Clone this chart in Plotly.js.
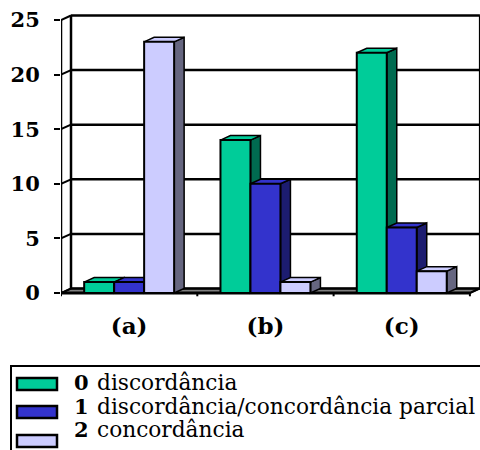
<!DOCTYPE html>
<html>
<head>
<meta charset="utf-8">
<script src="https://cdn.plot.ly/plotly-3.0.1.min.js"></script>
<style>html,body{margin:0;padding:0;background:#fff;}#chart{width:480px;height:450px;}</style>
</head>
<body>
<div id="chart"></div>
<script>
// ---- data ----
const categories = ["(a)", "(b)", "(c)"];
const seriesNames = ["discordância", "discordância/concordância parcial", "concordância"];
const seriesCodes = ["0", "1", "2"];
const s0 = [1, 14, 22];   // 0 discordância
const s1 = [1, 10, 6];    // 1 discordância/concordância parcial
const s2 = [23, 1, 2];    // 2 concordância
const yTicks = [0, 5, 10, 15, 20, 25];

// ---- styles ----
const frontColors = ["#00CC99", "#3333CC", "#CCCCFF"];
const sideColors  = ["#006B50", "#1C1C70", "#666680"];
const topColors   = ["#00CC99", "#3333CC", "#CCCCFF"];

const W = 480, H = 450;
const margin = {l: 61, r: 0, t: 12, b: 150};
const pxPerX = 136.3, pxPerY = 10.92;
const plotW = W - margin.l - margin.r, plotH = H - margin.t - margin.b;
const xMin = -0.5, xMax = xMin + plotW / pxPerX;
const yMin = -7 / pxPerY, yMax = yMin + plotH / pxPerY;
const dx = 10 / pxPerX, dy = 4.5 / pxPerY;   // 3-D depth offset
const bargap = 0.34;
const bw = (1 - bargap) / 3;
const yTop = yTicks[yTicks.length - 1];
const nCat = categories.length;

const all = [s0, s1, s2];
const xs = categories.map((c, i) => i);

const traces = all.map((vals, j) => ({
  type: "bar",
  x: xs,
  y: vals,
  name: seriesCodes[j] + " " + seriesNames[j],
  marker: {color: frontColors[j], line: {color: "#000", width: 2}},
  showlegend: false,
  hoverinfo: "skip"
}));

const shapes = [];
const L = (x0, y0, x1, y1, w, col) => shapes.push({type: "line", xref: "x", yref: "y",
  x0, y0, x1, y1, layer: "below", line: {color: col || "#000", width: w || 2}});

// floor
shapes.push({type: "path", xref: "x", yref: "y", layer: "below",
  path: `M${xMin},0 L${xMin + nCat},0 L${xMin + nCat + dx},${dy} L${xMin + dx},${dy} Z`,
  fillcolor: "#808080", line: {color: "#000", width: 1.5}});
// back wall gridlines + diagonals
yTicks.forEach(v => {
  L(xMin + dx, v + dy, xMin + nCat + dx, v + dy, 2.5);
  L(xMin, v, xMin + dx, v + dy, 2);
});
// back wall edges
L(xMin + dx, dy, xMin + dx, yTop + dy, 2.5);
L(xMin + nCat + dx, dy, xMin + nCat + dx, yTop + dy, 2);
// front axis
L(xMin, 0, xMin, yTop, 2.5);
L(xMin, 0, xMin + nCat, 0, 3);
L(xMin + nCat, 0, xMin + nCat + dx, dy, 2);
for (let k = 0; k <= nCat; k++) L(xMin + k, 0, xMin + k, -0.3, 2);

// bar sides and tops
xs.forEach((xc, i) => {
  all.forEach((vals, j) => {
    const v = vals[i];
    const xl = xc + (j - 1) * bw - bw / 2, xr = xl + bw;
    shapes.push({type: "path", xref: "x", yref: "y", layer: "below",
      path: `M${xr},0 L${xr + dx},${dy} L${xr + dx},${v + dy} L${xr},${v} Z`,
      fillcolor: sideColors[j], line: {color: "#000", width: 1.5}});
    shapes.push({type: "path", xref: "x", yref: "y", layer: "below",
      path: `M${xl},${v} L${xl + dx},${v + dy} L${xr + dx},${v + dy} L${xr},${v} Z`,
      fillcolor: topColors[j], line: {color: "#000", width: 1.5}});
  });
});

// custom legend (paper coords)
const px2x = p => (p - margin.l) / plotW;
const px2y = p => (margin.t + plotH - p) / plotH;
shapes.push({type: "rect", xref: "paper", yref: "paper",
  x0: px2x(11), x1: px2x(484), y0: px2y(455), y1: px2y(366),
  line: {color: "#000", width: 2}, fillcolor: "rgba(0,0,0,0)"});
const swatchY = [384, 412, 441];
const textY = [382, 406, 429];
const annotations = [];
seriesNames.forEach((nm, j) => {
  shapes.push({type: "rect", xref: "paper", yref: "paper",
    x0: px2x(17), x1: px2x(57), y0: px2y(swatchY[j] + 6), y1: px2y(swatchY[j] - 6),
    fillcolor: frontColors[j], line: {color: "#000", width: 2.5}});
  annotations.push({xref: "paper", yref: "paper", x: px2x(81), y: px2y(textY[j]),
    xanchor: "center", yanchor: "middle", showarrow: false,
    text: "<b>" + seriesCodes[j] + "</b>",
    font: {family: "DejaVu Serif", size: 21, color: "#000"}});
  annotations.push({xref: "paper", yref: "paper", x: px2x(95), y: px2y(textY[j]),
    xanchor: "left", yanchor: "middle", showarrow: false, text: nm,
    font: {family: "DejaVu Serif", size: 21.7, color: "#000"}});
});

const layout = {
  width: W, height: H, margin: margin,
  paper_bgcolor: "#fff", plot_bgcolor: "#fff",
  barmode: "group", bargap: bargap, bargroupgap: 0,
  showlegend: false,
  xaxis: {range: [xMin, xMax], tickvals: xs, ticktext: categories,
    showgrid: false, zeroline: false, showline: false,
    ticks: "outside", ticklen: 5, tickcolor: "rgba(0,0,0,0)",
    tickfont: {family: "DejaVu Serif", size: 23, color: "#000", weight: "bold"}},
  yaxis: {range: [yMin, yMax], tickvals: yTicks, ticktext: yTicks.map(String),
    showgrid: false, zeroline: false, showline: false,
    ticks: "outside", ticklen: 6, tickwidth: 2, tickcolor: "#000",
    ticklabelstandoff: 10,
    tickfont: {family: "DejaVu Serif", size: 21, color: "#000", weight: "bold"}},
  shapes: shapes, annotations: annotations
};
Plotly.newPlot("chart", traces, layout, {staticPlot: true, displayModeBar: false});
</script>
</body>
</html>
